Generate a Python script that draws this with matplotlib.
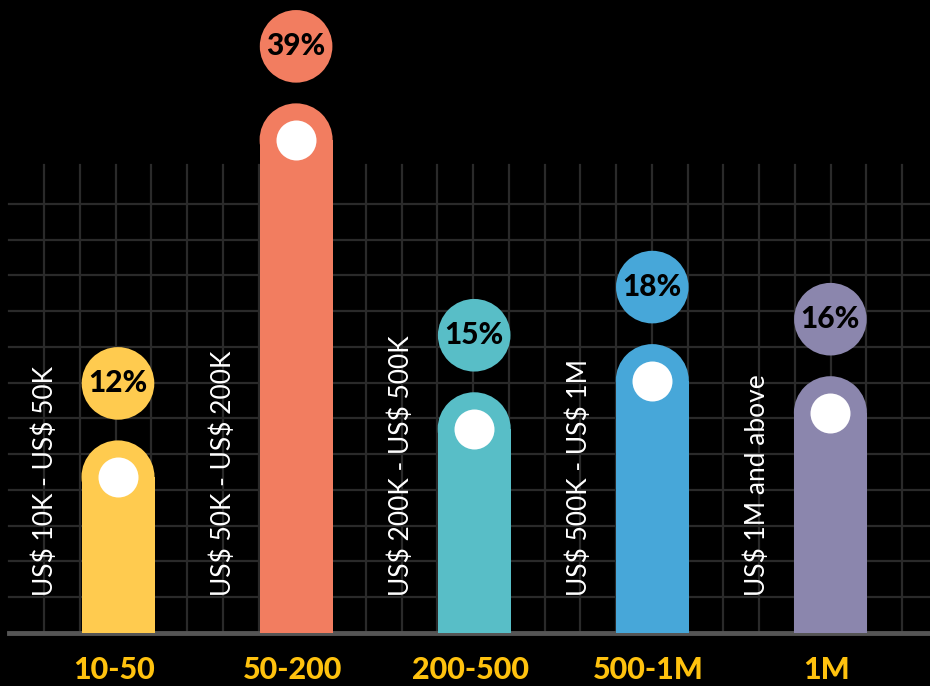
import numpy as np
import matplotlib.pyplot as plt

plt.rcParams['text.parse_math'] = False

# data
categories = ['10-50', '50-200', '200-500', '500-1M', '1M']
ranges = ['US$ 10K - US$ 50K', 'US$ 50K - US$ 200K', 'US$ 200K - US$ 500K',
          'US$ 500K - US$ 1M', 'US$ 1M and above']
values = [12, 39, 15, 18, 16]
colors = ['#FFCB4F', '#F27D60', '#58BEC7', '#47A7D9', '#8B86AD']
display_cap = 33  # tallest bar is cut off so it fits

W, H, DPI = 930, 686, 100
fig = plt.figure(figsize=(W / DPI, H / DPI), dpi=DPI, facecolor='black')

# background grid, pixel units
bg = fig.add_axes([0, 0, 1, 1])
bg.set_xlim(0, W)
bg.set_ylim(H, 0)
bg.axis('off')
step = 35.76
base_px = 633
for x in np.arange(44, W, step):
    bg.plot([x, x], [165, base_px], color='#2a2a2a', lw=1.6, zorder=0)
for y in np.arange(base_px - step, 180, -step):
    bg.plot([9, W], [y, y], color='#2a2a2a', lw=1.6, zorder=0)
bg.plot([9, W], [base_px, base_px], color='#555555', lw=3.5, zorder=1)

# data axes
px_x = 178.1   # pixels per category
px_y = 16.05   # pixels per percent
ax = fig.add_axes([0, 0, 1, 1])
ax.patch.set_alpha(0)
ax.set_xlim(-118 / px_x, (W - 118) / px_x)
ax.set_ylim(-(H - base_px) / px_y, base_px / px_y)
ax.axis('off')

x = np.arange(len(categories))
bar_w = 73 / px_x
r_y = 36.5 / px_y
pt = 72 / DPI
shown = np.minimum(values, display_cap)

ax.bar(x, shown - r_y, width=bar_w, color=colors, zorder=2)
ax.scatter(x, shown - r_y, s=(73 * pt) ** 2, c=colors, marker='o',
           linewidths=0, zorder=3)
ax.scatter(x, shown - r_y, s=(40 * pt) ** 2, c='white', marker='o',
           linewidths=0, zorder=4)

lab_y = shown + 57 / px_y
ax.scatter(x, lab_y, s=(72.6 * pt) ** 2, c=colors, marker='o',
           linewidths=0, zorder=3)
for xi, yi, v in zip(x, lab_y, values):
    ax.text(xi, yi, f'{v}%', ha='center', va='center', fontsize=21.5,
            fontweight='black', family='Lato', color='black', zorder=5)

for xi, t in zip(x, ranges):
    ax.text(xi - 73 / px_x, (base_px - 596) / px_y, t, rotation=90,
            ha='center', va='bottom', fontsize=19, family='Lato',
            color='white', zorder=5)

for xi, c in zip(x, categories):
    ax.text(xi - 0.02, -(670 - base_px) / px_y, c, ha='center', va='center',
            fontsize=22, fontweight='black', family='Lato', color='#FFC20E',
            zorder=5)

fig.savefig('out.png', dpi=DPI, facecolor='black')
